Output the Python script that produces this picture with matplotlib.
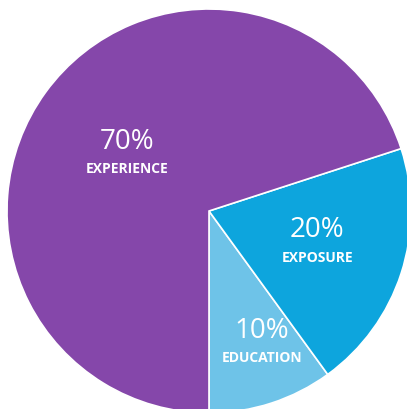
import matplotlib
matplotlib.use('Agg')
import matplotlib.pyplot as plt

# slice data, in drawing order (counter-clockwise from straight down)
labels = ['EDUCATION', 'EXPOSURE', 'EXPERIENCE']
shares = [10, 20, 70]
colors = ['#6EC3E8', '#0DA5DD', '#8547AA']

# centre of each text block, in pie units (radius = 1)
text_pos = [(0.262, -0.653), (0.535, -0.156), (-0.406, 0.282)]

W, H = 407, 410
cx, cy, r = 209, 212, 202  # pixel centre and radius

fig = plt.figure(figsize=(W / 100, H / 100), dpi=100)
ax = fig.add_axes([0, 0, 1, 1])

wedges, _ = ax.pie(shares, colors=colors, startangle=-90, counterclock=True,
                   radius=1, wedgeprops=dict(edgecolor='white', linewidth=1.2))

for lab, val, (x, y) in zip(labels, shares, text_pos):
    ax.text(x, y + 0.065, f'{val}%', color='white', fontsize=20,
            family='Open Sans', ha='center', va='center')
    ax.text(x, y - 0.07, lab, color='white', fontsize=10, fontweight='bold',
            family='Open Sans', ha='center', va='center')

ax.set_xlim(-cx / r, (W - cx) / r)
ax.set_ylim(-(H - cy) / r, cy / r)
ax.set_aspect('auto')
ax.axis('off')

fig.savefig('out.png', dpi=100)
